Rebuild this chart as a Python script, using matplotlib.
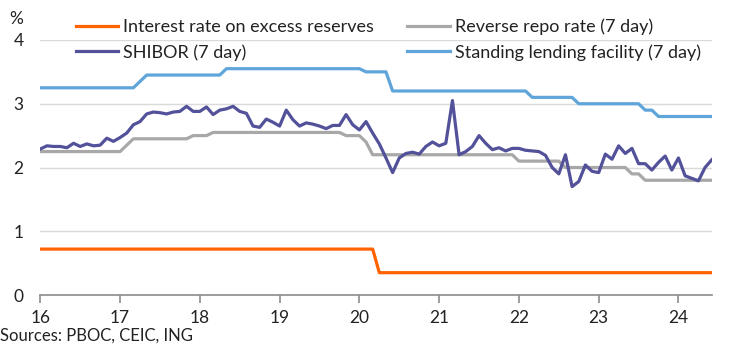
import matplotlib
matplotlib.use("Agg")
import matplotlib.pyplot as plt
from matplotlib.lines import Line2D
import numpy as np

# Monthly data, Jan 2016 onwards (x = year-2000 + month/12)
start_year = 16

shibor = [2.29, 2.34, 2.33, 2.33, 2.31, 2.38, 2.33, 2.37, 2.34, 2.35, 2.46, 2.41,
          2.47, 2.54, 2.67, 2.72, 2.84, 2.87, 2.86, 2.84, 2.87, 2.88, 2.96, 2.88,
          2.88, 2.95, 2.83, 2.90, 2.92, 2.96, 2.88, 2.85,
          2.65, 2.63, 2.76, 2.71, 2.65, 2.90, 2.75, 2.65, 2.70, 2.68, 2.65, 2.61,
          2.66, 2.66, 2.83, 2.67, 2.59, 2.72, 2.54, 2.37, 2.15, 1.92, 2.15, 2.22,
          2.24, 2.21, 2.33, 2.40, 2.34, 2.38, 3.05, 2.20, 2.25, 2.33, 2.50, 2.38,
          2.28, 2.31, 2.26, 2.30, 2.30, 2.27, 2.26, 2.25, 2.19, 2.00, 1.90, 2.20,
          1.70, 1.78, 2.04, 1.94, 1.92, 2.21, 2.13, 2.34, 2.22, 2.30, 2.06, 2.06,
          1.96, 2.08, 2.18, 1.96, 2.15, 1.87, 1.83, 1.79, 2.00, 2.12]

slf = ([3.25] * 15 + [3.35] + [3.45] * 12 + [3.55] * 21 + [3.50] * 4 +
       [3.20] * 21 + [3.10] * 7 + [3.00] * 10 + [2.90] * 2 + [2.80] * 9)

reverse_repo = ([2.25] * 13 + [2.35] + [2.45] * 9 + [2.50] * 3 + [2.55] * 20 +
                [2.50] * 3 + [2.40] + [2.20] * 22 + [2.10] * 7 + [2.00] * 10 +
                [1.90] * 2 + [1.80] * 11)

ioer = [0.72] * 51 + [0.35] * 51

x_ticks = [16, 17, 18, 19, 20, 21, 22, 23, 24]
y_ticks = [0, 1, 2, 3, 4]

labels = ["Interest rate on excess reserves", "SHIBOR (7 day)",
          "Reverse repo rate (7 day)", "Standing lending facility (7 day)"]
colors = ["#FF6200", "#525199", "#A8A8A8", "#5FA5DA"]

n = len(shibor)
x = start_year + np.arange(n) / 12.0

plt.rcParams['font.family'] = ['Lato', 'DejaVu Sans']

fig = plt.figure(figsize=(7.44, 3.48), dpi=100)
ax = fig.add_axes([40.3 / 744, 1 - 295 / 348, (711.7 - 40.3) / 744, (295 - 40) / 348])

lw = 2.3
ax.plot(x, ioer, color=colors[0], lw=lw, label=labels[0], zorder=3)
ax.plot(x, reverse_repo, color=colors[2], lw=lw, label=labels[2], zorder=3)
ax.plot(x, slf, color=colors[3], lw=lw, label=labels[3], zorder=3)
ax.plot(x, shibor, color=colors[1], lw=lw, label=labels[1], zorder=4)

ax.set_xlim(start_year, start_year + (n - 1) / 12.0)
ax.set_ylim(0, 4)
ax.set_xticks(x_ticks)
ax.set_xticklabels([str(t) for t in x_ticks])
ax.set_yticks(y_ticks)
ax.set_yticklabels([str(t) for t in y_ticks])

for s in ['top', 'right', 'left']:
    ax.spines[s].set_visible(False)
ax.spines['bottom'].set_color('#8C8C8C')
ax.spines['bottom'].set_linewidth(1.2)
ax.spines['bottom'].set_zorder(2)

ax.yaxis.grid(True, color='#DADADA', lw=1.0)
ax.set_axisbelow(True)
ax.tick_params(axis='y', length=0, pad=12, labelsize=12.5, labelcolor='#222222')
ax.tick_params(axis='x', length=6, width=1.2, color='#8C8C8C', pad=5,
               labelsize=12.5, labelcolor='#222222')

fig.text(16 / 744, 1 - 19 / 348, "%", ha='center', va='center', fontsize=12.5, color='#222222')
fig.text(0, 1 - 336 / 348, "Sources: PBOC, CEIC, ING", ha='left', va='center',
         fontsize=12, color='#222222')

handles = [Line2D([], [], color=c, lw=lw) for c in colors]
leg = fig.legend(handles, labels, ncol=2, loc='upper left',
                 bbox_to_anchor=(63 / 744, 1 - 6 / 348), frameon=False,
                 fontsize=13, handlelength=2.35, handletextpad=0.28,
                 columnspacing=1.85, labelspacing=0.5, borderpad=0.2)
for t in leg.get_texts():
    t.set_color('#222222')

fig.savefig("out.png", dpi=100)
